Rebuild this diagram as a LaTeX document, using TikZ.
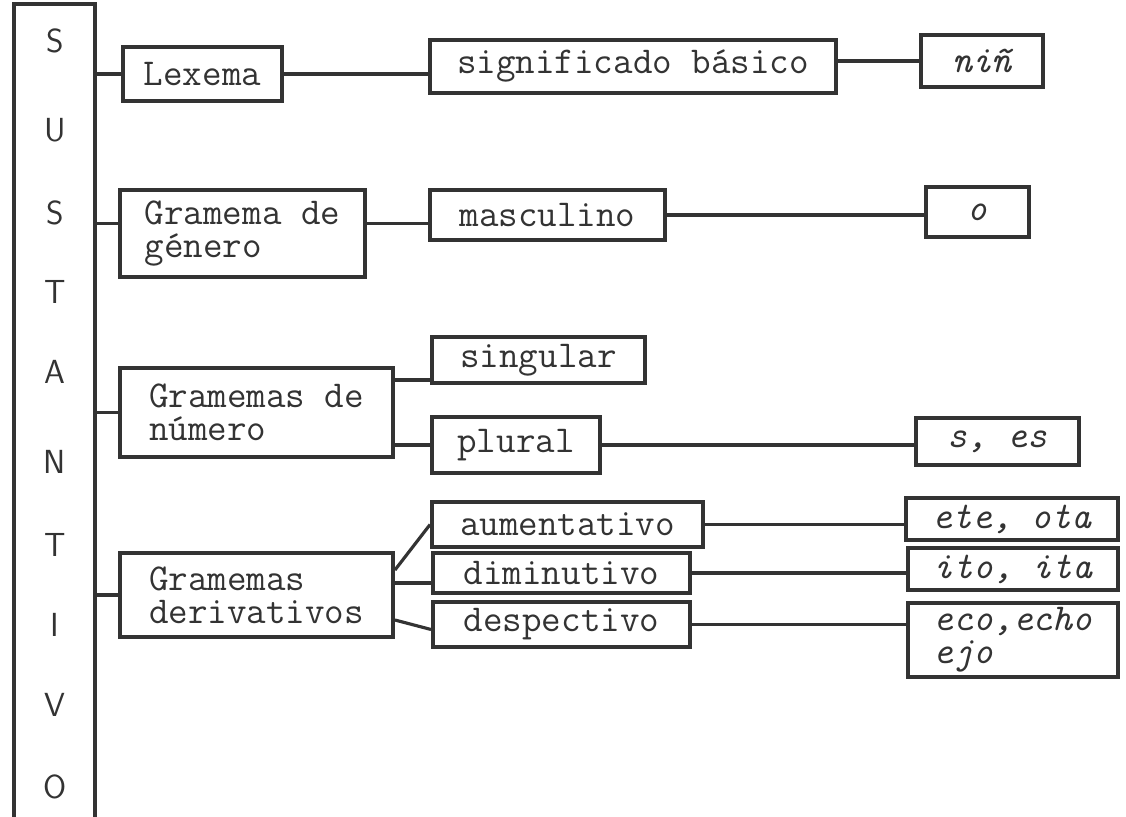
\documentclass[tikz,border=0pt]{standalone}
\usepackage{tikz}
\usetikzlibrary{positioning,calc}
\definecolor{ink}{HTML}{333333}
\tikzset{
    wordbox/.style = {draw=ink, line width=2.2pt, inner sep=0pt, align=left, text=ink,
        font=\fontsize{21.6}{19}\selectfont\ttfamily},
    morphbox/.style = {wordbox, font=\fontsize{21.6}{19}\selectfont\ttfamily\itshape},
    boxsize/.style 2 args = {minimum width=#1*0.02cm, minimum height=#2*0.02cm},
    sustletter/.style = {text=ink, font=\fontsize{19}{22}\selectfont\sffamily},
    link/.style = {draw=ink, line width=1.8pt}
}

\begin{document}
\begin{tikzpicture}[x=0.02cm, y=-0.02cm]
                \useasboundingbox (0,0) rectangle (1126,816);

                % SUSTANTIVO
                \node[draw=ink, line width=2.4pt, inner sep=0pt, boxsize={81}{826}] (sust) at (54.5,417) {};
                \foreach \ch/\y [count=\i] in {S/41,U/130,S/213,T/292,A/372,N/462,T/545,I/625,V/705,O/787}
                    \node[sustletter] (let\i) at (55,\y) {\ch};

                % Lexema
                \node[wordbox, boxsize={159}{54}] (lexema) at (202.5,74) {Lexema};
                \node[wordbox, boxsize={406}{53}] (signif) at (633,66.5) {significado básico};
                \node[morphbox, boxsize={122}{52}] (nin) at (982,61) {niñ};

                % Gramema de genero
                \node[wordbox, boxsize={245}{87}] (genero) at (242.5,233.5) {Gramema de\\género};
                \node[wordbox, boxsize={235}{50}] (masc) at (547.5,215) {masculino};
                \node[morphbox, boxsize={103}{50}] (o) at (977.5,212) {o};

                % Gramemas de numero
                \node[wordbox, boxsize={273}{89}] (numero) at (256.5,412.5) {Gramemas de\\número};
                \node[wordbox, boxsize={213}{46}] (singular) at (538.5,360) {singular};
                \node[wordbox, boxsize={168}{56}] (plural) at (516,445) {plural};
                \node[morphbox, boxsize={163}{47}] (ses) at (997.5,441.5) {s, es};

                % Gramemas derivativos
                \node[wordbox, boxsize={273}{84}] (deriv) at (256.5,595) {Gramemas\\derivativos};
                \node[wordbox, boxsize={271}{45}] (aument) at (567.5,524.5) {aumentativo};
                \node[wordbox, boxsize={257}{40}] (dimin) at (561.5,573) {diminutivo};
                \node[wordbox, boxsize={257}{45}] (despec) at (561.5,624.5) {despectivo};
                \node[morphbox, boxsize={212}{42}] (ete) at (1012,519) {ete, ota};
                \node[morphbox, boxsize={210}{42}] (ito) at (1013,569) {ito, ita};
                \node[morphbox, boxsize={210}{74}] (eco) at (1013,640) {eco,echo\\ejo};

                %% connectors
                \draw[link] (lexema.west -| sust.east) -- (lexema.west);
                \draw[link] (lexema.east) -- (lexema.east -| signif.west);
                \draw[link] (nin.west -| signif.east) -- (nin.west);

                \draw[link] ([yshift=0.2cm]genero.west -| sust.east) -- ([yshift=0.2cm]genero.west);
                \draw[link] ([yshift=0.2cm]genero.east) -- ([yshift=0.2cm]genero.east -| masc.west);
                \draw[link] (masc.east) -- (masc.east -| o.west);

                \draw[link] (numero.west -| sust.east) -- (numero.west);
                \draw[link] ([yshift=0.1cm]singular.south west -| numero.east) -- ([yshift=0.1cm]singular.south west);
                \draw[link] (plural.west -| numero.east) -- (plural.west);
                \draw[link] (plural.east) -- (plural.east -| ses.west);

                \draw[link] (deriv.west -| sust.east) -- (deriv.west);
                \draw[link] ([yshift=0.5cm]deriv.east) -- (aument.west);
                \draw[link] ([yshift=0.24cm]deriv.east) -- ([yshift=0.24cm]deriv.east -| dimin.west);
                \draw[link] ([yshift=-0.5cm]deriv.east) -- ([yshift=-0.1cm]despec.west);
                \draw[link] (aument.east) -- (aument.east -| ete.west);
                \draw[link] (dimin.east) -- (dimin.east -| ito.west);
                \draw[link] (despec.east) -- (despec.east -| eco.west);

\end{tikzpicture}
\end{document}
